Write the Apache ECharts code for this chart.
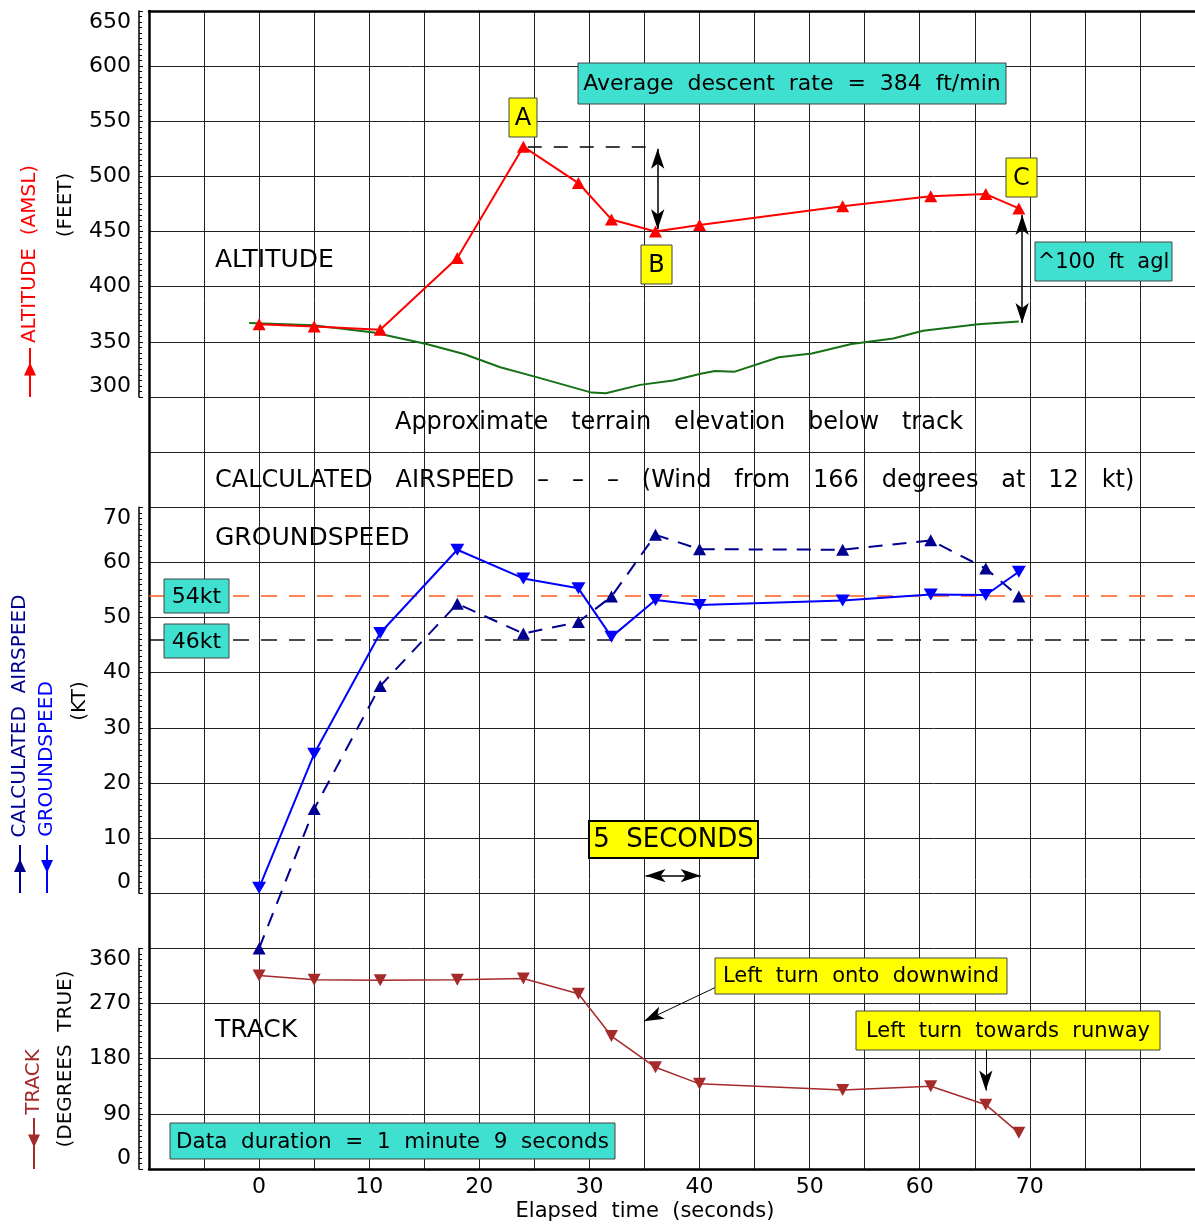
<!DOCTYPE html>
<html>
<head>
<meta charset="utf-8">
<title>Altitude, speed and track</title>
<script src="https://cdn.jsdelivr.net/npm/echarts@6/dist/echarts.min.js"></script>
<style>
html,body{margin:0;padding:0;background:#fff;}
#chart{width:1195px;height:1224px;}
</style>
</head>
<body>
<div id="chart"></div>
<script>
// elapsed time (s) of each recorded point
var times = [0, 5, 11, 18, 24, 29, 32, 36, 40, 53, 61, 66, 69];
var altitude = [366, 364, 361, 426, 527, 494, 461, 450, 456, 473, 482, 484, 471];
var groundspeed = [1, 25.3, 47.2, 62.3, 57.1, 55.3, 46.5, 53.2, 52.3, 53.1, 54.2, 54.1, 58.3];
var airspeed = [-10, 15.3, 37.6, 52.5, 47.1, 49.2, 53.8, 65.0, 62.4, 62.3, 64.0, 58.9, 53.8];
var track = [316, 309, 308, 309, 311, 286, 217, 166, 139, 129, 135, 105, 59];

// terrain elevation below the track, [time, feet]
var terrain = [[-0.9, 367], [4.9, 365], [10.4, 358.5], [15.2, 348], [18.6, 339], [21.9, 327],
    [25.2, 318], [30.2, 304], [31.5, 303.4], [34.6, 311], [37.6, 315], [40.1, 321], [41.4, 323.6],
    [43.2, 323], [47.2, 336], [50.2, 339.4], [53.8, 348], [57.6, 353], [60.3, 360], [65.3, 366], [69, 368.5]];

var xTickLabels = [0, 10, 20, 30, 40, 50, 60, 70];
var speedRefs = [54, 46];

// annotation lines, in data units
var peakLevel = [[24.4, 527], [35.1, 527]];
var descentArrow = [[36.2, 525], [36.2, 452]];
var aglArrow = [[69.3, 465], [69.3, 367]];
var fiveSecArrow = [[35.1, 3.2], [40.1, 3.2]];
var downwindArrow = [[41.4, 296], [34.95, 241]];
var runwayArrow = [[66, 195], [66, 128]];

var FONT = '"DejaVu Sans"';
var TOP = 11, BOTTOM = 1169;
var CELL = (BOTTOM - TOP) / 21;
var H = 1224;

function pairs(ys){
    return times.map(function(t, i){ return [t, ys[i]] })
}

function arrowLine(pts, startSym, endSym, width, dash){
    var ls = {color: '#000', width: width, type: dash || 'solid'};
    return [
        {coord: pts[0], symbol: startSym, lineStyle: ls},
        {coord: pts[1], symbol: endSym, lineStyle: ls}
    ]
}

function box(l, t, w, h, text, fill, size, bw){
    return {
        type: 'group',
        children: [
            {type: 'rect', z: 100, shape: {x: l, y: t, width: w, height: h},
                style: {fill: fill, stroke: bw > 1 ? '#000' : '#444', lineWidth: bw || 1}},
            {type: 'text', z: 101, x: l + w / 2, y: t + h / 2 + 1,
                style: {text: text, fill: '#000', font: size + 'px ' + FONT,
                    align: 'center', verticalAlign: 'middle', textAlign: 'center', textVerticalAlign: 'middle'}}
        ]
    }
}

function label(x, y, text, size, align){
    return {type: 'text', x: x, y: y, z: 90,
        style: {text: text, fill: '#000', font: size + 'px ' + FONT,
            align: align || 'left', verticalAlign: 'middle', textAlign: align || 'left', textVerticalAlign: 'middle'}}
}

function vlabel(x, y, text, color, size){
    return {type: 'text', x: x, y: y, rotation: Math.PI / 2, z: 90,
        style: {text: text, fill: color, font: size + 'px ' + FONT,
            align: 'center', verticalAlign: 'middle', textAlign: 'center', textVerticalAlign: 'middle'}}
}

// little line-with-triangle key drawn under a rotated axis title
function key(x, y1, y2, color, up){
    var m = (y1 + y2) / 2 - 3;
    var tri = up ? [[x, m - 7], [x - 6, m + 6], [x + 6, m + 6]] : [[x, m + 7], [x - 6, m - 6], [x + 6, m - 6]];
    return {type: 'group', children: [
        {type: 'line', z: 90, shape: {x1: x, y1: y1, x2: x, y2: y2}, style: {stroke: color, lineWidth: 2}},
        {type: 'polygon', z: 90, shape: {points: tri}, style: {fill: color}}
    ]}
}

function panelY(gridIndex, min, max, interval){
    return {
        gridIndex: gridIndex, min: min, max: max, interval: interval,
        offset: 10,
        axisLine: {show: true, onZero: false, lineStyle: {color: '#000', width: 1.5}},
        axisTick: {show: true, inside: true, length: 4, lineStyle: {color: '#000'}},
        minorTick: {show: true, splitNumber: 10, length: 3, lineStyle: {color: '#000'}},
        splitLine: {show: false},
        axisLabel: {color: '#000', fontSize: 22, fontFamily: FONT, margin: 8,
            verticalAlignMinLabel: 'bottom', verticalAlignMaxLabel: 'top'}
    }
}

function hiddenX(gridIndex){
    return {type: 'value', gridIndex: gridIndex, min: -10, max: 85, show: false}
}

var chart = echarts.init(document.getElementById('chart'))

var option = {
    animation: false,
    backgroundColor: '#fff',
    grid: [
        {left: 149, right: 0, top: TOP, bottom: H - BOTTOM, outerBoundsMode: 'none'},
        {left: 149, right: 0, top: TOP, height: 7 * CELL, outerBoundsMode: 'none'},
        {left: 149, right: 0, top: TOP + 9 * CELL, height: 7 * CELL, outerBoundsMode: 'none'},
        {left: 149, right: 0, top: TOP + 17 * CELL, height: 4 * CELL, outerBoundsMode: 'none'}
    ],
    xAxis: [
        {
            type: 'value', gridIndex: 0, min: -10, max: 85, interval: 5,
            axisLine: {show: true, onZero: false, lineStyle: {color: '#000', width: 2.5}},
            axisTick: {show: false},
            splitLine: {show: true, showMaxLine: false, lineStyle: {color: '#222', width: 1}},
            axisLabel: {
                color: '#000', fontSize: 22, fontFamily: FONT, margin: 7,
                formatter: function(v){ return xTickLabels.indexOf(v) >= 0 ? String(v) : '' }
            }
        },
        hiddenX(1), hiddenX(2), hiddenX(3),
        // top frame line
        {
            type: 'value', gridIndex: 0, position: 'top', min: -10, max: 85,
            axisLine: {show: true, onZero: false, lineStyle: {color: '#000', width: 2.5}},
            axisTick: {show: false}, axisLabel: {show: false}, splitLine: {show: false}
        }
    ],
    yAxis: [
        {
            type: 'value', gridIndex: 0, min: 0, max: 21, interval: 1,
            axisLine: {show: true, onZero: false, lineStyle: {color: '#000', width: 2.5}},
            axisTick: {show: false}, axisLabel: {show: false},
            splitLine: {show: true, lineStyle: {color: '#222', width: 1}}
        },
        panelY(1, 300, 650, 50),
        panelY(2, 0, 70, 10),
        panelY(3, 0, 360, 90)
    ],
    series: [
        {
            name: 'terrain', type: 'line', xAxisIndex: 1, yAxisIndex: 1,
            data: terrain, showSymbol: false, symbol: 'none',
            lineStyle: {color: '#167016', width: 2}, z: 5
        },
        {
            name: 'altitude', type: 'line', xAxisIndex: 1, yAxisIndex: 1,
            data: pairs(altitude), symbol: 'triangle', symbolSize: [13, 12],
            itemStyle: {color: '#ff0000'}, lineStyle: {color: '#ff0000', width: 2}, z: 6,
            markLine: {
                silent: true, animation: false, label: {show: false}, symbol: 'none',
                symbolSize: [10, 20],
                data: [
                    arrowLine(peakLevel, 'none', 'none', 1.5, [14, 12]),
                    arrowLine(descentArrow, 'arrow', 'arrow', 1.5),
                    arrowLine(aglArrow, 'arrow', 'arrow', 1.5)
                ]
            }
        },
        {
            name: 'airspeed', type: 'line', xAxisIndex: 2, yAxisIndex: 2,
            data: pairs(airspeed), symbol: 'triangle', symbolSize: [13, 12], clip: false,
            itemStyle: {color: '#000090'}, lineStyle: {color: '#000090', width: 2, type: [14, 10]}, z: 6
        },
        {
            name: 'groundspeed', type: 'line', xAxisIndex: 2, yAxisIndex: 2,
            data: pairs(groundspeed), symbol: 'triangle', symbolRotate: 180, symbolSize: [14, 12],
            itemStyle: {color: '#0000ff'}, lineStyle: {color: '#0000ff', width: 2}, z: 7,
            markLine: {
                silent: true, animation: false, label: {show: false}, symbol: 'none',
                symbolSize: [10, 20],
                data: [
                    {yAxis: speedRefs[0], lineStyle: {color: '#ff5a1e', width: 1.5, type: [16, 12]}},
                    {yAxis: speedRefs[1], lineStyle: {color: '#111', width: 1.5, type: [16, 12]}},
                    arrowLine(fiveSecArrow, 'arrow', 'arrow', 1.5)
                ]
            }
        },
        {
            name: 'track', type: 'line', xAxisIndex: 3, yAxisIndex: 3,
            data: pairs(track), symbol: 'triangle', symbolRotate: 180, symbolSize: [13, 12],
            itemStyle: {color: '#a52a2a'}, lineStyle: {color: '#a52a2a', width: 1.5}, z: 6,
            markLine: {
                silent: true, animation: false, label: {show: false}, symbol: 'none',
                symbolSize: [10, 20],
                data: [
                    arrowLine(downwindArrow, 'none', 'arrow', 1),
                    arrowLine(runwayArrow, 'none', 'arrow', 1)
                ]
            }
        }
    ],
    graphic: [
        // axis titles on the left
        vlabel(30, 254, 'ALTITUDE  (AMSL)', '#ff0000', 20),
        key(30, 348, 397, '#ff0000', true),
        vlabel(66, 205, '(FEET)', '#000', 20),
        vlabel(20, 716, 'CALCULATED  AIRSPEED', '#000090', 20),
        key(20, 845, 893, '#000090', true),
        vlabel(47, 759, 'GROUNDSPEED', '#0000ff', 20),
        key(47, 845, 893, '#0000ff', false),
        vlabel(80, 701, '(KT)', '#000', 20),
        vlabel(34, 1082, 'TRACK', '#a52a2a', 20),
        key(34, 1118, 1169, '#a52a2a', false),
        vlabel(66, 1059, '(DEGREES  TRUE)', '#000', 20),

        // panel captions
        label(215, 260, 'ALTITUDE', 25),
        label(679, 423, 'Approximate   terrain   elevation   below   track', 24, 'center'),
        label(215, 481, 'CALCULATED   AIRSPEED   –   –   –   (Wind   from   166   degrees   at   12   kt)', 24),
        label(215, 538, 'GROUNDSPEED', 25),
        label(215, 1030, 'TRACK', 25),
        label(645, 1212, 'Elapsed  time  (seconds)', 21, 'center'),

        // boxed notes
        box(578, 63, 428, 41, 'Average  descent  rate  =  384  ft/min', '#40e0d0', 22),
        box(509, 98, 28, 39, 'A', '#ffff00', 24),
        box(641, 245, 31, 39, 'B', '#ffff00', 24),
        box(1006, 158, 31, 39, 'C', '#ffff00', 24),
        box(1035, 242, 137, 39, '^100  ft  agl', '#40e0d0', 21),
        box(164, 579, 65, 34, '54kt', '#40e0d0', 22),
        box(164, 624, 65, 34, '46kt', '#40e0d0', 22),
        box(589, 821, 169, 37, '5  SECONDS', '#ffff00', 26, 2),
        box(715, 958, 292, 36, 'Left  turn  onto  downwind', '#ffff00', 21),
        box(856, 1011, 304, 39, 'Left  turn  towards  runway', '#ffff00', 21),
        box(170, 1123, 445, 36, 'Data  duration  =  1  minute  9  seconds', '#40e0d0', 21.5)
    ]
}

chart.setOption(option)
window.onresize = function(){ chart.resize() }
</script>
</body>
</html>
